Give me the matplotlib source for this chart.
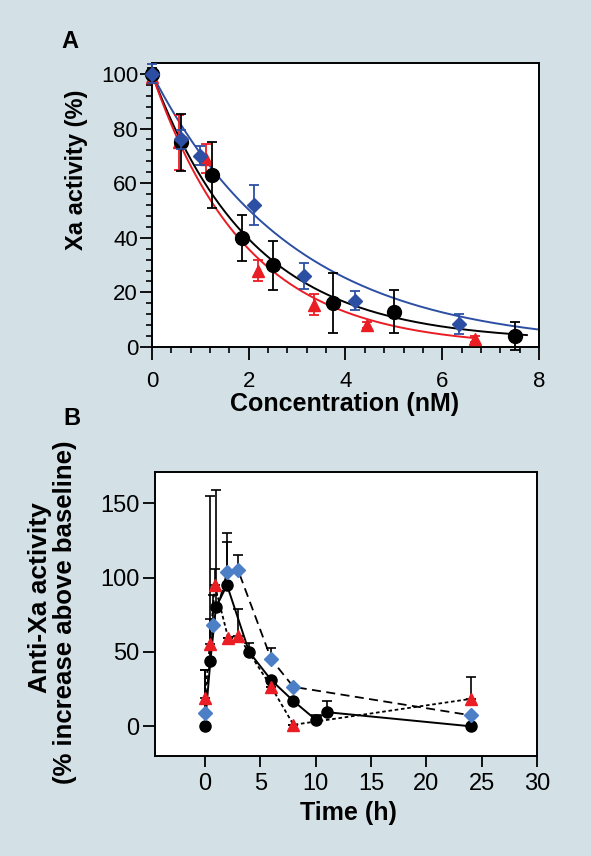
import numpy as np
import matplotlib
matplotlib.use('Agg')
import matplotlib.pyplot as plt

plt.rcParams['font.family'] = ['Liberation Sans', 'DejaVu Sans']

# ==========================================
# DATA - panel A (Xa activity vs concentration)
# ==========================================
blk_conc = [0, 0.6, 1.25, 1.87, 2.5, 3.75, 5.0, 7.5]
blk_act = [100, 75, 63, 40, 30, 16, 13, 4]
blk_err = [2, 10.5, 12, 8.5, 9, 11, 7.8, 5]

blu_conc = [0, 0.6, 1.0, 2.1, 3.15, 4.2, 6.35]
blu_act = [100, 76, 70, 52, 26, 17, 8.5]
blu_err = [3.5, 3.5, 3.5, 7.5, 4.7, 3.5, 3.7]

red_conc = [0, 0.55, 1.12, 2.2, 3.35, 4.45, 6.67]
red_act = [99, 75, 69, 28, 15.5, 8, 3]
red_err = [2, 10, 5.3, 3.7, 3.8, 1, 1]

# one-phase decay fits: rate k, plateau, last x
blk_fit = (0.48, 2.0, 7.75)
blu_fit = (0.344, 0.0, 8.0)
red_fit = (0.513, 0.0, 6.7)

# ==========================================
# DATA - panel B (anti-Xa activity vs time)
# ==========================================
blk_t = [0, 0.5, 1, 2, 4, 6, 8, 10, 11, 24]
blk_y = [0, 44, 80, 95, 50, 31, 17, 4.5, 9.5, 0]
blk_up = [0, 111, 79, 29, 6.3, 0, 0, 3.4, 7.4, 0]

blu_t = [0, 0.75, 2, 3, 6, 8, 24]
blu_y = [9, 68, 103.5, 105, 45, 26.5, 7.4]
blu_up = [29, 20, 26.5, 10, 7.5, 0, 0]

red_t = [0, 0.45, 0.9, 2.1, 3, 6, 8, 24]
red_y = [19, 55, 95, 59.5, 61, 26.5, 1, 18.4]
red_up = [19, 17, 11, 0, 18, 0, 0, 15]

BG = '#d3e1e7'
BLUE_A = '#2c4fa3'
BLUE_B = '#4d7fc6'
RED = '#ea1c24'

fig = plt.figure(figsize=(5.91, 8.56), dpi=100, facecolor=BG)

# ---------------- Panel A ----------------
axA = fig.add_axes([0.2572, 0.5946, 0.6548, 0.3318])
for (k, p, xend), col in [(blk_fit, 'black'), (blu_fit, BLUE_A), (red_fit, RED)]:
    xs = np.linspace(0, xend, 200)
    axA.plot(xs, (100 - p) * np.exp(-k * xs) + p, color=col, lw=1.4, zorder=2)

axA.errorbar(red_conc, red_act, yerr=red_err, fmt='^', color=RED, ms=9,
             ecolor=RED, elinewidth=1.3, capsize=3.5, capthick=1.3, clip_on=False, zorder=3)
axA.errorbar(blk_conc, blk_act, yerr=blk_err, fmt='o', color='black', ms=10,
             ecolor='black', elinewidth=1.3, capsize=3.5, capthick=1.3, clip_on=False, zorder=4)
axA.errorbar(blu_conc, blu_act, yerr=blu_err, fmt='D', color=BLUE_A, ms=7,
             ecolor=BLUE_A, elinewidth=1.3, capsize=3.5, capthick=1.3, clip_on=False, zorder=5)

axA.set_xlim(0, 8)
axA.set_ylim(0, 104)
axA.set_xticks([0, 2, 4, 6, 8])
axA.set_yticks([0, 20, 40, 60, 80, 100])
axA.set_xticks(np.arange(0, 8.01, 0.4), minor=True)
axA.set_yticks(np.arange(0, 104, 4), minor=True)
axA.tick_params(axis='x', which='major', direction='out', length=9, width=1.3, labelsize=16, pad=8)
axA.tick_params(axis='y', which='major', direction='out', length=9, width=1.3, labelsize=16, pad=1)
axA.tick_params(which='minor', direction='out', length=4.5, width=1.2)

# ---------------- Panel B ----------------
axB = fig.add_axes([0.2623, 0.1168, 0.6464, 0.3318])
axB.plot(blu_t, blu_y, color='black', lw=1.3, ls=(0, (5, 3)), zorder=2)
axB.plot(red_t, red_y, color='black', lw=1.3, ls=(0, (2, 1.5)), zorder=2)
axB.plot(blk_t, blk_y, color='black', lw=1.4, ls='-', zorder=2)

errkw = dict(fmt='none', ecolor='black', elinewidth=1.2, capsize=3.5, capthick=1.2, zorder=1)
axB.errorbar(blk_t, blk_y, yerr=[np.zeros(len(blk_up)), blk_up], **errkw)
axB.errorbar(blu_t, blu_y, yerr=[np.zeros(len(blu_up)), blu_up], **errkw)
axB.errorbar(red_t, red_y, yerr=[np.zeros(len(red_up)), red_up], **errkw)

axB.plot(blk_t, blk_y, 'o', color='black', ms=8, ls='none', zorder=3)
axB.plot(red_t, red_y, '^', color=RED, ms=8.5, ls='none', zorder=4)
axB.plot(blu_t, blu_y, 'D', color=BLUE_B, ms=7, ls='none', zorder=5)

axB.set_xlim(-4.5, 30)
axB.set_ylim(-20, 171)
axB.set_xticks([0, 5, 10, 15, 20, 25, 30])
axB.set_yticks([0, 50, 100, 150])
axB.tick_params(axis='x', direction='out', length=8, width=1.3, labelsize=17, pad=4)
axB.tick_params(axis='y', direction='out', length=9, width=1.3, labelsize=17, pad=2)

for ax in (axA, axB):
    ax.set_facecolor('white')
    for s in ax.spines.values():
        s.set_linewidth(1.4)

# ---------------- Labels ----------------
fig.text(70 / 591, 1 - 41 / 856, 'A', fontsize=17, fontweight='bold', ha='center', va='center')
fig.text(72 / 591, 1 - 419 / 856, 'B', fontsize=17, fontweight='bold', ha='center', va='center')

fig.text(77 / 591, 1 - 170 / 856, 'Xa activity (%)', fontsize=17, fontweight='bold',
         rotation=90, ha='center', va='center')
fig.text(345 / 591, 1 - 404 / 856, 'Concentration (nM)', fontsize=18, fontweight='bold',
         ha='center', va='center')

fig.text(40 / 591, 1 - 598 / 856, 'Anti-Xa activity', fontsize=19, fontweight='bold',
         rotation=90, ha='center', va='center')
fig.text(65 / 591, 1 - 612 / 856, '(% increase above baseline)', fontsize=18.5, fontweight='bold',
         rotation=90, ha='center', va='center')
fig.text(348 / 591, 1 - 813 / 856, 'Time (h)', fontsize=18, fontweight='bold',
         ha='center', va='center')

fig.savefig('out.png', dpi=100, facecolor=BG)
